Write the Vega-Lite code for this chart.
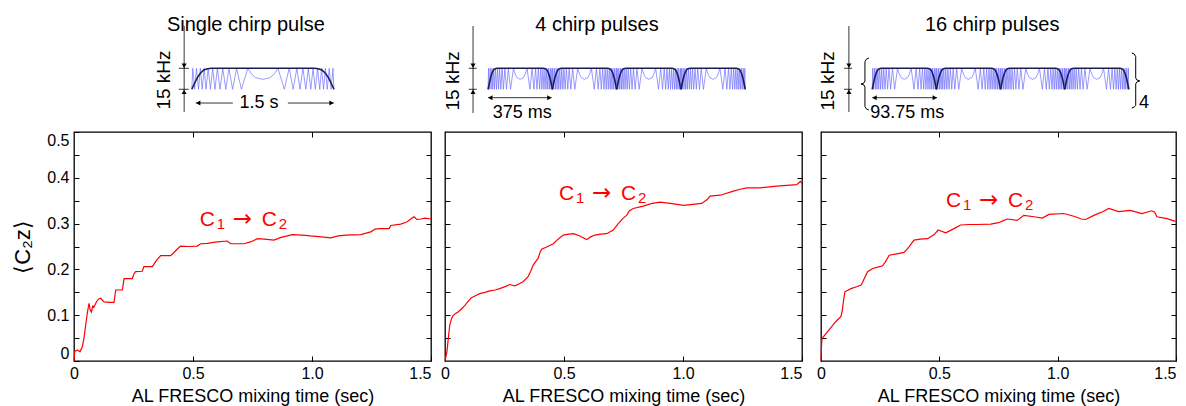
{
  "$schema": "https://vega.github.io/schema/vega-lite/v6.json",
  "padding": {"left": 11, "top": 5, "right": 5, "bottom": 0},
  "background": "#ffffff",
  "config": {
    "font": "Liberation Sans",
    "view": {"stroke": "#000000", "strokeWidth": 1.3},
    "axis": {"domain": false, "grid": false, "ticks": true, "tickColor": "#000000", "tickSize": -5, "tickWidth": 1, "minExtent": 0,
      "labelColor": "#000000", "labelFontSize": 16, "labelFont": "Liberation Sans", "labelPadding": 9,
      "titleColor": "#000000", "titleFont": "Liberation Sans", "titleFontWeight": "normal"},
    "text": {"font": "Liberation Sans"}
  },
  "datasets": {
    "chirp": [
      {"u":0,"k":0},{"u":0.007,"k":15},{"u":0.02,"k":0},{"u":0.033,"k":15},{"u":0.047,"k":0},{"u":0.06,"k":15},{"u":0.073,"k":0},{"u":0.087,"k":15},{"u":0.1,"k":0},{"u":0.115,"k":15},{"u":0.131,"k":0},{"u":0.147,"k":15},{"u":0.163,"k":0},{"u":0.18,"k":15},{"u":0.198,"k":0},{"u":0.218,"k":15},{"u":0.239,"k":0},{"u":0.261,"k":15},{"u":0.287,"k":0},{"u":0.315,"k":15},{"u":0.349,"k":0},{"u":0.394,"k":15},{"u":0.42,"k":11},{"u":0.45,"k":8.3},{"u":0.5,"k":7.1},{"u":0.55,"k":8.3},{"u":0.58,"k":11},{"u":0.606,"k":15},{"u":0.651,"k":0},{"u":0.685,"k":15},{"u":0.713,"k":0},{"u":0.739,"k":15},{"u":0.761,"k":0},{"u":0.782,"k":15},{"u":0.802,"k":0},{"u":0.82,"k":15},{"u":0.837,"k":0},{"u":0.853,"k":15},{"u":0.869,"k":0},{"u":0.885,"k":15},{"u":0.9,"k":0},{"u":0.913,"k":15},{"u":0.927,"k":0},{"u":0.94,"k":15},{"u":0.953,"k":0},{"u":0.967,"k":15},{"u":0.98,"k":0},{"u":0.993,"k":15},{"u":1,"k":0}
    ],
    "env": [
      {"u":0,"k":0},{"u":0.02,"k":4.5},{"u":0.04,"k":8.5},{"u":0.06,"k":11.5},{"u":0.085,"k":13.8},{"u":0.11,"k":14.7},{"u":0.14,"k":15},{"u":0.86,"k":15},{"u":0.89,"k":14.7},{"u":0.915,"k":13.8},{"u":0.94,"k":11.5},{"u":0.96,"k":8.5},{"u":0.98,"k":4.5},{"u":1,"k":0}
    ],
    "p1": [
      {"t":0,"v":0},{"t":0.003,"v":0.021},{"t":0.014,"v":0.024},{"t":0.025,"v":0.02},{"t":0.035,"v":0.031},{"t":0.042,"v":0.05},{"t":0.049,"v":0.078},{"t":0.056,"v":0.105},{"t":0.063,"v":0.126},{"t":0.068,"v":0.112},{"t":0.073,"v":0.107},{"t":0.079,"v":0.12},{"t":0.084,"v":0.118},{"t":0.095,"v":0.13},{"t":0.105,"v":0.136},{"t":0.112,"v":0.137},{"t":0.126,"v":0.129},{"t":0.15,"v":0.128},{"t":0.168,"v":0.128},{"t":0.172,"v":0.142},{"t":0.175,"v":0.155},{"t":0.19,"v":0.155},{"t":0.203,"v":0.155},{"t":0.207,"v":0.168},{"t":0.21,"v":0.18},{"t":0.23,"v":0.18},{"t":0.245,"v":0.18},{"t":0.252,"v":0.19},{"t":0.259,"v":0.195},{"t":0.287,"v":0.196},{"t":0.294,"v":0.206},{"t":0.329,"v":0.206},{"t":0.343,"v":0.217},{"t":0.35,"v":0.222},{"t":0.364,"v":0.23},{"t":0.39,"v":0.23},{"t":0.406,"v":0.23},{"t":0.42,"v":0.237},{"t":0.435,"v":0.245},{"t":0.448,"v":0.251},{"t":0.48,"v":0.25},{"t":0.518,"v":0.251},{"t":0.532,"v":0.256},{"t":0.56,"v":0.257},{"t":0.602,"v":0.26},{"t":0.644,"v":0.262},{"t":0.658,"v":0.256},{"t":0.69,"v":0.256},{"t":0.714,"v":0.256},{"t":0.742,"v":0.26},{"t":0.771,"v":0.267},{"t":0.8,"v":0.266},{"t":0.84,"v":0.264},{"t":0.87,"v":0.27},{"t":0.918,"v":0.276},{"t":0.96,"v":0.275},{"t":0.994,"v":0.273},{"t":1.04,"v":0.271},{"t":1.079,"v":0.269},{"t":1.11,"v":0.273},{"t":1.142,"v":0.275},{"t":1.205,"v":0.276},{"t":1.247,"v":0.282},{"t":1.265,"v":0.288},{"t":1.282,"v":0.289},{"t":1.324,"v":0.289},{"t":1.331,"v":0.296},{"t":1.373,"v":0.299},{"t":1.4,"v":0.304},{"t":1.42,"v":0.312},{"t":1.429,"v":0.315},{"t":1.44,"v":0.309},{"t":1.457,"v":0.31},{"t":1.475,"v":0.312},{"t":1.5,"v":0.31}
    ],
    "p2": [
      {"t":0,"v":0},{"t":0.004,"v":0.01},{"t":0.008,"v":0.02},{"t":0.014,"v":0.05},{"t":0.02,"v":0.078},{"t":0.027,"v":0.092},{"t":0.034,"v":0.099},{"t":0.045,"v":0.104},{"t":0.055,"v":0.107},{"t":0.07,"v":0.114},{"t":0.083,"v":0.121},{"t":0.097,"v":0.13},{"t":0.111,"v":0.138},{"t":0.13,"v":0.143},{"t":0.146,"v":0.147},{"t":0.168,"v":0.15},{"t":0.188,"v":0.153},{"t":0.21,"v":0.155},{"t":0.23,"v":0.158},{"t":0.255,"v":0.163},{"t":0.272,"v":0.167},{"t":0.293,"v":0.164},{"t":0.31,"v":0.168},{"t":0.328,"v":0.173},{"t":0.349,"v":0.184},{"t":0.36,"v":0.196},{"t":0.37,"v":0.209},{"t":0.381,"v":0.217},{"t":0.391,"v":0.224},{"t":0.4,"v":0.238},{"t":0.406,"v":0.244},{"t":0.427,"v":0.249},{"t":0.455,"v":0.256},{"t":0.475,"v":0.266},{"t":0.497,"v":0.275},{"t":0.52,"v":0.277},{"t":0.539,"v":0.278},{"t":0.567,"v":0.273},{"t":0.595,"v":0.265},{"t":0.612,"v":0.271},{"t":0.63,"v":0.275},{"t":0.655,"v":0.277},{"t":0.679,"v":0.278},{"t":0.707,"v":0.286},{"t":0.728,"v":0.3},{"t":0.749,"v":0.312},{"t":0.763,"v":0.318},{"t":0.775,"v":0.328},{"t":0.791,"v":0.333},{"t":0.833,"v":0.338},{"t":0.87,"v":0.344},{"t":0.904,"v":0.347},{"t":0.946,"v":0.344},{"t":0.975,"v":0.342},{"t":1.002,"v":0.34},{"t":1.04,"v":0.342},{"t":1.079,"v":0.344},{"t":1.1,"v":0.352},{"t":1.114,"v":0.36},{"t":1.156,"v":0.362},{"t":1.212,"v":0.371},{"t":1.24,"v":0.375},{"t":1.268,"v":0.378},{"t":1.324,"v":0.378},{"t":1.394,"v":0.382},{"t":1.45,"v":0.384},{"t":1.478,"v":0.385},{"t":1.493,"v":0.392},{"t":1.5,"v":0.388}
    ],
    "p3": [
      {"t":0,"v":0},{"t":0.002,"v":0.03},{"t":0.004,"v":0.049},{"t":0.021,"v":0.06},{"t":0.04,"v":0.072},{"t":0.056,"v":0.082},{"t":0.07,"v":0.09},{"t":0.084,"v":0.097},{"t":0.09,"v":0.11},{"t":0.096,"v":0.135},{"t":0.101,"v":0.151},{"t":0.127,"v":0.158},{"t":0.15,"v":0.162},{"t":0.169,"v":0.166},{"t":0.176,"v":0.172},{"t":0.183,"v":0.18},{"t":0.197,"v":0.195},{"t":0.218,"v":0.202},{"t":0.24,"v":0.205},{"t":0.26,"v":0.208},{"t":0.274,"v":0.218},{"t":0.288,"v":0.231},{"t":0.32,"v":0.234},{"t":0.351,"v":0.237},{"t":0.362,"v":0.243},{"t":0.372,"v":0.249},{"t":0.393,"v":0.264},{"t":0.42,"v":0.266},{"t":0.45,"v":0.267},{"t":0.478,"v":0.276},{"t":0.495,"v":0.286},{"t":0.527,"v":0.28},{"t":0.562,"v":0.289},{"t":0.59,"v":0.297},{"t":0.625,"v":0.298},{"t":0.66,"v":0.298},{"t":0.717,"v":0.299},{"t":0.75,"v":0.302},{"t":0.773,"v":0.307},{"t":0.787,"v":0.31},{"t":0.829,"v":0.307},{"t":0.857,"v":0.318},{"t":0.9,"v":0.315},{"t":0.935,"v":0.312},{"t":0.963,"v":0.32},{"t":1.026,"v":0.322},{"t":1.068,"v":0.316},{"t":1.1,"v":0.31},{"t":1.118,"v":0.309},{"t":1.153,"v":0.318},{"t":1.19,"v":0.326},{"t":1.216,"v":0.333},{"t":1.258,"v":0.326},{"t":1.307,"v":0.329},{"t":1.356,"v":0.322},{"t":1.398,"v":0.328},{"t":1.41,"v":0.325},{"t":1.419,"v":0.315},{"t":1.462,"v":0.311},{"t":1.498,"v":0.305}
    ]
  },
  "spacing": 9,
  "hconcat": [
    {
      "spacing": 4,
      "hconcat": [
        {
          "spacing": 5,
          "vconcat": [
            {
              "width": 357, "height": 120, "view": {"stroke": null},
              "encoding": {
                "x": {"field": "u", "type": "quantitative", "scale": {"domain": [-0.829, 1.683], "nice": false}, "axis": null},
                "y": {"field": "k", "type": "quantitative", "scale": {"domain": [-25.5, 60.2], "nice": false}, "axis": null}
              },
              "layer": [
                {"data": {"name": "chirp"}, "mark": {"type": "line", "color": "#6f6fff", "strokeWidth": 0.7}},
                {"data": {"name": "env"}, "mark": {"type": "line", "color": "#1d1d55", "strokeWidth": 1.6}},
                {"data": {"values": [{"u":-0.054,"u2":-0.054,"k":45.2,"k2":-16.2},{"u":-0.092,"u2":-0.021,"k":15,"k2":15},{"u":-0.092,"u2":-0.021,"k":0,"k2":0},{"u":0.028,"u2":0.289,"k":-9.8,"k2":-9.8},{"u":0.676,"u2":1.0,"k":-9.8,"k2":-9.8}]},
                 "mark": {"type": "rule", "color": "#000000", "strokeWidth": 0.8},
                 "encoding": {"x2": {"field": "u2"}, "y2": {"field": "k2"}}},
                {"data": {"values": [{"u":-0.054,"k":16.8}]}, "mark": {"type": "point", "shape": "triangle-down", "filled": true, "size": 25, "color": "#000000", "opacity": 1}},
                {"data": {"values": [{"u":-0.054,"k":-1.8}]}, "mark": {"type": "point", "shape": "triangle-up", "filled": true, "size": 25, "color": "#000000", "opacity": 1}},
                {"data": {"values": [{"u":0.045,"k":-9.8}]}, "mark": {"type": "point", "shape": "triangle-left", "filled": true, "size": 25, "color": "#000000", "opacity": 1}},
                {"data": {"values": [{"u":0.983,"k":-9.8}]}, "mark": {"type": "point", "shape": "triangle-right", "filled": true, "size": 25, "color": "#000000", "opacity": 1}},
                {"data": {"values": [{"u":0.38,"k":41.6,"txt":"Single chirp pulse"}]}, "mark": {"type": "text", "fontSize": 20, "baseline": "alphabetic", "align": "center", "color": "#000000"}, "encoding": {"text": {"field": "txt"}}},
                {"data": {"values": [{"u":-0.197,"k":6.6,"txt":"15 kHz"}]}, "mark": {"type": "text", "fontSize": 19, "angle": 270, "baseline": "middle", "align": "center", "color": "#000000"}, "encoding": {"text": {"field": "txt"}}},
                {"data": {"values": [{"u":0.472,"k":-9.8,"txt":"1.5 s"}]}, "mark": {"type": "text", "fontSize": 18, "baseline": "middle", "align": "center", "color": "#000000"}, "encoding": {"text": {"field": "txt"}}}
              ]
            },
            {
              "width": 357, "height": 229,
              "layer": [
                {"data": {"name": "p1"}, "mark": {"type": "line", "color": "#ff0000", "strokeWidth": 1.2},
                 "encoding": {
                   "x": {"field": "t", "type": "quantitative", "scale": {"domain": [0, 1.5], "nice": false},
                     "axis": {"orient": "bottom", "values": [0, 0.5, 1, 1.5], "labelExpr": "datum.value == 0 ? '0' : format(datum.value, '.1f')", "labelFlush": false,
                       "labelAlign": {"condition": {"test": "datum.value >= 1.5", "value": "right"}, "value": "center"},
                       "title": "AL FRESCO mixing time (sec)", "titleFontSize": 18, "titlePadding": 6}},
                   "y": {"field": "v", "type": "quantitative", "scale": {"domain": [0, 0.5], "nice": false},
                     "axis": {"orient": "left", "values": [0,0.05,0.1,0.15,0.2,0.25,0.3,0.35,0.4,0.45,0.5], "labelExpr": "round(datum.value*100) % 10 == 0 ? (datum.value == 0 ? '0' : format(datum.value, '.1f')) : ''", "labelFlush": true, "labelPadding": 10,
                       "title": "⟨C₂z⟩", "titleFontSize": 22, "titlePadding": 12}}
                 }},
                {"data": {"values": [{"t":0.713,"v":0.31}]},
                 "encoding": {
                   "x": {"field": "t", "type": "quantitative", "scale": {"domain": [0, 1.5], "nice": false}, "axis": {"orient": "top", "labels": false, "title": null, "values": [0.5, 1]}},
                   "y": {"field": "v", "type": "quantitative", "scale": {"domain": [0, 0.5], "nice": false}, "axis": {"orient": "right", "labels": false, "title": null, "values": [0.05,0.1,0.15,0.2,0.25,0.3,0.35,0.4,0.45]}}
                 },
                 "layer": [
                   {"mark": {"type": "text", "color": "#ff0000", "fontSize": 21, "align": "left", "baseline": "alphabetic", "dx": -44, "dy": 7}, "encoding": {"text": {"value": "C"}}},
                   {"mark": {"type": "text", "color": "#ff0000", "fontSize": 15, "align": "left", "baseline": "alphabetic", "dx": -27, "dy": 10}, "encoding": {"text": {"value": "1"}}},
                   {"mark": {"type": "text", "color": "#ff0000", "fontSize": 23, "font": "DejaVu Sans", "align": "left", "baseline": "alphabetic", "dx": -11, "dy": 7}, "encoding": {"text": {"value": "→"}}},
                   {"mark": {"type": "text", "color": "#ff0000", "fontSize": 21, "align": "left", "baseline": "alphabetic", "dx": 18, "dy": 7}, "encoding": {"text": {"value": "C"}}},
                   {"mark": {"type": "text", "color": "#ff0000", "fontSize": 15, "align": "left", "baseline": "alphabetic", "dx": 35, "dy": 10}, "encoding": {"text": {"value": "2"}}}
                 ]}
              ],
              "resolve": {"axis": {"x": "independent", "y": "independent"}}
            }
          ]
        },
        {
          "spacing": 5,
          "vconcat": [
            {
              "width": 357, "height": 120, "view": {"stroke": null},
              "encoding": {
                "x": {"field": "u", "type": "quantitative", "scale": {"domain": [-0.67, 4.882], "nice": false}, "axis": null},
                "y": {"field": "k", "type": "quantitative", "scale": {"domain": [-25.5, 60.2], "nice": false}, "axis": null}
              },
              "layer": [
                {"encoding": {"x": {"field": "u", "type": "quantitative", "scale": {"domain": [-0.67, 4.882], "nice": false}, "axis": null}},
                 "layer": [
                   {"data": {"name": "chirp"}, "mark": {"type": "line", "color": "#6f6fff", "strokeWidth": 0.7}},
                   {"data": {"name": "env"}, "mark": {"type": "line", "color": "#1d1d55", "strokeWidth": 1.6}}
                 ]},
                {"encoding": {"x": {"field": "u", "type": "quantitative", "scale": {"domain": [-1.67, 3.882], "nice": false}, "axis": null}},
                 "layer": [
                   {"data": {"name": "chirp"}, "mark": {"type": "line", "color": "#6f6fff", "strokeWidth": 0.7}},
                   {"data": {"name": "env"}, "mark": {"type": "line", "color": "#1d1d55", "strokeWidth": 1.6}}
                 ]},
                {"encoding": {"x": {"field": "u", "type": "quantitative", "scale": {"domain": [-2.67, 2.882], "nice": false}, "axis": null}},
                 "layer": [
                   {"data": {"name": "chirp"}, "mark": {"type": "line", "color": "#6f6fff", "strokeWidth": 0.7}},
                   {"data": {"name": "env"}, "mark": {"type": "line", "color": "#1d1d55", "strokeWidth": 1.6}}
                 ]},
                {"encoding": {"x": {"field": "u", "type": "quantitative", "scale": {"domain": [-3.67, 1.882], "nice": false}, "axis": null}},
                 "layer": [
                   {"data": {"name": "chirp"}, "mark": {"type": "line", "color": "#6f6fff", "strokeWidth": 0.7}},
                   {"data": {"name": "env"}, "mark": {"type": "line", "color": "#1d1d55", "strokeWidth": 1.6}}
                 ]},
                {"layer": [
                  {"data": {"values": [{"u":-0.234,"u2":-0.234,"k":45.2,"k2":-16.9},{"u":-0.3,"u2":-0.176,"k":15,"k2":15},{"u":-0.3,"u2":-0.176,"k":0,"k2":0},{"u":0,"u2":0.988,"k":-6,"k2":-6}]},
                   "mark": {"type": "rule", "color": "#000000", "strokeWidth": 0.8},
                   "encoding": {"x2": {"field": "u2"}, "y2": {"field": "k2"}}},
                  {"data": {"values": [{"u":-0.234,"k":16.8}]}, "mark": {"type": "point", "shape": "triangle-down", "filled": true, "size": 25, "color": "#000000", "opacity": 1}},
                  {"data": {"values": [{"u":-0.234,"k":-1.8}]}, "mark": {"type": "point", "shape": "triangle-up", "filled": true, "size": 25, "color": "#000000", "opacity": 1}},
                  {"data": {"values": [{"u":0.035,"k":-6}]}, "mark": {"type": "point", "shape": "triangle-left", "filled": true, "size": 25, "color": "#000000", "opacity": 1}},
                  {"data": {"values": [{"u":0.953,"k":-6}]}, "mark": {"type": "point", "shape": "triangle-right", "filled": true, "size": 25, "color": "#000000", "opacity": 1}},
                  {"data": {"values": [{"u":1.693,"k":41.6,"txt":"4 chirp pulses"}]}, "mark": {"type": "text", "fontSize": 20, "baseline": "alphabetic", "align": "center", "color": "#000000"}, "encoding": {"text": {"field": "txt"}}},
                  {"data": {"values": [{"u":-0.539,"k":6,"txt":"15 kHz"}]}, "mark": {"type": "text", "fontSize": 19, "angle": 270, "baseline": "middle", "align": "center", "color": "#000000"}, "encoding": {"text": {"field": "txt"}}},
                  {"data": {"values": [{"u":0.533,"k":-20.5,"txt":"375 ms"}]}, "mark": {"type": "text", "fontSize": 18, "baseline": "alphabetic", "align": "center", "color": "#000000"}, "encoding": {"text": {"field": "txt"}}}
                ]}
              ],
              "resolve": {"scale": {"x": "independent"}}
            },
            {
              "width": 357, "height": 229,
              "layer": [
                {"data": {"name": "p2"}, "mark": {"type": "line", "color": "#ff0000", "strokeWidth": 1.2},
                 "encoding": {
                   "x": {"field": "t", "type": "quantitative", "scale": {"domain": [0, 1.5], "nice": false},
                     "axis": {"orient": "bottom", "values": [0, 0.5, 1, 1.5], "labelExpr": "datum.value == 0 ? '0' : format(datum.value, '.1f')", "labelFlush": false,
                       "labelAlign": {"condition": {"test": "datum.value >= 1.5", "value": "right"}, "value": "center"},
                       "title": "AL FRESCO mixing time (sec)", "titleFontSize": 18, "titlePadding": 6}},
                   "y": {"field": "v", "type": "quantitative", "scale": {"domain": [0, 0.5], "nice": false},
                     "axis": {"orient": "left", "values": [0.05,0.1,0.15,0.2,0.25,0.3,0.35,0.4,0.45], "labels": false, "title": null}}
                 }},
                {"data": {"values": [{"t":0.664,"v":0.367}]},
                 "encoding": {
                   "x": {"field": "t", "type": "quantitative", "scale": {"domain": [0, 1.5], "nice": false}, "axis": {"orient": "top", "labels": false, "title": null, "values": [0.5, 1]}},
                   "y": {"field": "v", "type": "quantitative", "scale": {"domain": [0, 0.5], "nice": false}, "axis": {"orient": "right", "labels": false, "title": null, "values": [0.05,0.1,0.15,0.2,0.25,0.3,0.35,0.4,0.45]}}
                 },
                 "layer": [
                   {"mark": {"type": "text", "color": "#ff0000", "fontSize": 21, "align": "left", "baseline": "alphabetic", "dx": -44, "dy": 7}, "encoding": {"text": {"value": "C"}}},
                   {"mark": {"type": "text", "color": "#ff0000", "fontSize": 15, "align": "left", "baseline": "alphabetic", "dx": -27, "dy": 10}, "encoding": {"text": {"value": "1"}}},
                   {"mark": {"type": "text", "color": "#ff0000", "fontSize": 23, "font": "DejaVu Sans", "align": "left", "baseline": "alphabetic", "dx": -11, "dy": 7}, "encoding": {"text": {"value": "→"}}},
                   {"mark": {"type": "text", "color": "#ff0000", "fontSize": 21, "align": "left", "baseline": "alphabetic", "dx": 18, "dy": 7}, "encoding": {"text": {"value": "C"}}},
                   {"mark": {"type": "text", "color": "#ff0000", "fontSize": 15, "align": "left", "baseline": "alphabetic", "dx": 35, "dy": 10}, "encoding": {"text": {"value": "2"}}}
                 ]}
              ],
              "resolve": {"axis": {"x": "independent", "y": "independent"}}
            }
          ]
        }
      ]
    },
    {
      "spacing": 5,
      "vconcat": [
        {
          "width": 355, "height": 120, "view": {"stroke": null},
          "encoding": {
            "x": {"field": "u", "type": "quantitative", "scale": {"domain": [-0.799, 4.735], "nice": false}, "axis": null},
            "y": {"field": "k", "type": "quantitative", "scale": {"domain": [-25.5, 60.2], "nice": false}, "axis": null}
          },
          "layer": [
            {"encoding": {"x": {"field": "u", "type": "quantitative", "scale": {"domain": [-0.799, 4.735], "nice": false}, "axis": null}},
             "layer": [
               {"data": {"name": "chirp"}, "mark": {"type": "line", "color": "#6f6fff", "strokeWidth": 0.7}},
               {"data": {"name": "env"}, "mark": {"type": "line", "color": "#1d1d55", "strokeWidth": 1.6}}
             ]},
            {"encoding": {"x": {"field": "u", "type": "quantitative", "scale": {"domain": [-1.799, 3.735], "nice": false}, "axis": null}},
             "layer": [
               {"data": {"name": "chirp"}, "mark": {"type": "line", "color": "#6f6fff", "strokeWidth": 0.7}},
               {"data": {"name": "env"}, "mark": {"type": "line", "color": "#1d1d55", "strokeWidth": 1.6}}
             ]},
            {"encoding": {"x": {"field": "u", "type": "quantitative", "scale": {"domain": [-2.799, 2.735], "nice": false}, "axis": null}},
             "layer": [
               {"data": {"name": "chirp"}, "mark": {"type": "line", "color": "#6f6fff", "strokeWidth": 0.7}},
               {"data": {"name": "env"}, "mark": {"type": "line", "color": "#1d1d55", "strokeWidth": 1.6}}
             ]},
            {"encoding": {"x": {"field": "u", "type": "quantitative", "scale": {"domain": [-3.799, 1.735], "nice": false}, "axis": null}},
             "layer": [
               {"data": {"name": "chirp"}, "mark": {"type": "line", "color": "#6f6fff", "strokeWidth": 0.7}},
               {"data": {"name": "env"}, "mark": {"type": "line", "color": "#1d1d55", "strokeWidth": 1.6}}
             ]},
            {"layer": [
              {"data": {"values": [{"u":-0.364,"u2":-0.364,"k":45.2,"k2":-16.2},{"u":-0.44,"u2":-0.315,"k":15,"k2":15},{"u":-0.44,"u2":-0.315,"k":0,"k2":0},{"u":0,"u2":1.01,"k":-6,"k2":-6}]},
               "mark": {"type": "rule", "color": "#000000", "strokeWidth": 0.8},
               "encoding": {"x2": {"field": "u2"}, "y2": {"field": "k2"}}},
              {"data": {"values": [
                {"b":"L","i":1,"u":-0.051,"k":22.3},{"b":"L","i":2,"u":-0.09,"k":21.6},{"b":"L","i":3,"u":-0.114,"k":19.8},{"b":"L","i":4,"u":-0.114,"k":5.9},{"b":"L","i":5,"u":-0.13,"k":4.5},{"b":"L","i":6,"u":-0.176,"k":3.8},{"b":"L","i":7,"u":-0.13,"k":3.1},{"b":"L","i":8,"u":-0.114,"k":1.6},{"b":"L","i":9,"u":-0.114,"k":-12.3},{"b":"L","i":10,"u":-0.09,"k":-14.1},{"b":"L","i":11,"u":-0.051,"k":-14.8},
                {"b":"R","i":1,"u":4.045,"k":25.9},{"b":"R","i":2,"u":4.084,"k":25.2},{"b":"R","i":3,"u":4.107,"k":23.4},{"b":"R","i":4,"u":4.107,"k":8.1},{"b":"R","i":5,"u":4.123,"k":6.7},{"b":"R","i":6,"u":4.17,"k":6.0},{"b":"R","i":7,"u":4.123,"k":5.2},{"b":"R","i":8,"u":4.107,"k":3.8},{"b":"R","i":9,"u":4.107,"k":-11.6},{"b":"R","i":10,"u":4.084,"k":-12.6},{"b":"R","i":11,"u":4.045,"k":-13.4}
              ]},
               "mark": {"type": "line", "color": "#000000", "strokeWidth": 1},
               "encoding": {"detail": {"field": "b"}, "order": {"field": "i", "type": "quantitative"}}},
              {"data": {"values": [{"u":-0.364,"k":16.8}]}, "mark": {"type": "point", "shape": "triangle-down", "filled": true, "size": 25, "color": "#000000", "opacity": 1}},
              {"data": {"values": [{"u":-0.364,"k":-1.8}]}, "mark": {"type": "point", "shape": "triangle-up", "filled": true, "size": 25, "color": "#000000", "opacity": 1}},
              {"data": {"values": [{"u":0.035,"k":-6}]}, "mark": {"type": "point", "shape": "triangle-left", "filled": true, "size": 25, "color": "#000000", "opacity": 1}},
              {"data": {"values": [{"u":0.975,"k":-6}]}, "mark": {"type": "point", "shape": "triangle-right", "filled": true, "size": 25, "color": "#000000", "opacity": 1}},
              {"data": {"values": [{"u":1.869,"k":41.6,"txt":"16 chirp pulses"}]}, "mark": {"type": "text", "fontSize": 20, "baseline": "alphabetic", "align": "center", "color": "#000000"}, "encoding": {"text": {"field": "txt"}}},
              {"data": {"values": [{"u":-0.688,"k":6,"txt":"15 kHz"}]}, "mark": {"type": "text", "fontSize": 19, "angle": 270, "baseline": "middle", "align": "center", "color": "#000000"}, "encoding": {"text": {"field": "txt"}}},
              {"data": {"values": [{"u":0.545,"k":-20.5,"txt":"93.75 ms"}]}, "mark": {"type": "text", "fontSize": 18, "baseline": "alphabetic", "align": "center", "color": "#000000"}, "encoding": {"text": {"field": "txt"}}},
              {"data": {"values": [{"u":4.16,"k":-13.4,"txt":"4"}]}, "mark": {"type": "text", "fontSize": 18, "baseline": "alphabetic", "align": "left", "color": "#000000"}, "encoding": {"text": {"field": "txt"}}}
            ]}
          ],
          "resolve": {"scale": {"x": "independent"}}
        },
        {
          "width": 355, "height": 229,
          "layer": [
            {"data": {"name": "p3"}, "mark": {"type": "line", "color": "#ff0000", "strokeWidth": 1.2},
             "encoding": {
               "x": {"field": "t", "type": "quantitative", "scale": {"domain": [0, 1.5], "nice": false},
                 "axis": {"orient": "bottom", "values": [0, 0.5, 1, 1.5], "labelExpr": "datum.value == 0 ? '0' : format(datum.value, '.1f')", "labelFlush": false,
                   "labelAlign": {"condition": {"test": "datum.value >= 1.5", "value": "right"}, "value": "center"},
                   "title": "AL FRESCO mixing time (sec)", "titleFontSize": 18, "titlePadding": 6}},
               "y": {"field": "v", "type": "quantitative", "scale": {"domain": [0, 0.5], "nice": false},
                 "axis": {"orient": "left", "values": [0.05,0.1,0.15,0.2,0.25,0.3,0.35,0.4,0.45], "labels": false, "title": null}}
             }},
            {"data": {"values": [{"t":0.714,"v":0.351}]},
             "encoding": {
               "x": {"field": "t", "type": "quantitative", "scale": {"domain": [0, 1.5], "nice": false}, "axis": {"orient": "top", "labels": false, "title": null, "values": [0.5, 1]}},
               "y": {"field": "v", "type": "quantitative", "scale": {"domain": [0, 0.5], "nice": false}, "axis": {"orient": "right", "labels": false, "title": null, "values": [0.05,0.1,0.15,0.2,0.25,0.3,0.35,0.4,0.45]}}
             },
             "layer": [
               {"mark": {"type": "text", "color": "#ff0000", "fontSize": 21, "align": "left", "baseline": "alphabetic", "dx": -44, "dy": 7}, "encoding": {"text": {"value": "C"}}},
               {"mark": {"type": "text", "color": "#ff0000", "fontSize": 15, "align": "left", "baseline": "alphabetic", "dx": -27, "dy": 10}, "encoding": {"text": {"value": "1"}}},
               {"mark": {"type": "text", "color": "#ff0000", "fontSize": 23, "font": "DejaVu Sans", "align": "left", "baseline": "alphabetic", "dx": -11, "dy": 7}, "encoding": {"text": {"value": "→"}}},
               {"mark": {"type": "text", "color": "#ff0000", "fontSize": 21, "align": "left", "baseline": "alphabetic", "dx": 18, "dy": 7}, "encoding": {"text": {"value": "C"}}},
               {"mark": {"type": "text", "color": "#ff0000", "fontSize": 15, "align": "left", "baseline": "alphabetic", "dx": 35, "dy": 10}, "encoding": {"text": {"value": "2"}}}
             ]}
          ],
          "resolve": {"axis": {"x": "independent", "y": "independent"}}
        }
      ]
    }
  ]
}
